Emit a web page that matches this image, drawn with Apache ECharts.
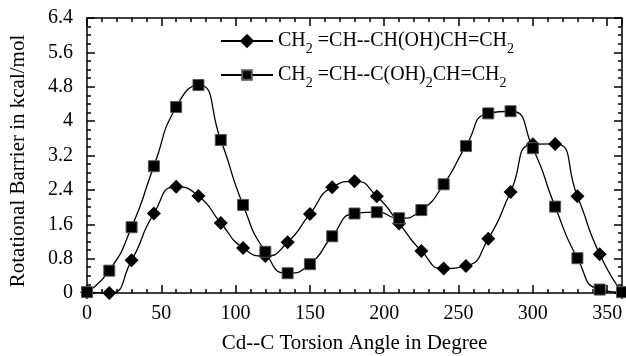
<!DOCTYPE html>
<html>
<head>
<meta charset="utf-8">
<script src="https://cdn.jsdelivr.net/npm/echarts@6/dist/echarts.min.js"></script>
<style>
  html, body { margin: 0; padding: 0; background: #fff; }
  #chart { width: 626px; height: 356px; }
</style>
</head>
<body>
<div id="chart"></div>
<script>
// 扭转角（度）
var angles = [0, 15, 30, 45, 60, 75, 90, 105, 120, 135, 150, 165, 180,
              195, 210, 225, 240, 255, 270, 285, 300, 315, 330, 345, 360];
// CH2=CH--CH(OH)CH=CH2
var barrierOne = [0.02, 0.0, 0.76, 1.85, 2.47, 2.26, 1.63, 1.05, 0.86, 1.18, 1.84, 2.46,
                  2.6, 2.25, 1.62, 0.98, 0.57, 0.63, 1.26, 2.35, 3.46, 3.47, 2.25, 0.9, 0.02];
// CH2=CH--C(OH)2CH=CH2
var barrierTwo = [0.02, 0.52, 1.53, 2.95, 4.33, 4.84, 3.56, 2.05, 0.96, 0.46, 0.67, 1.32,
                  1.85, 1.88, 1.74, 1.93, 2.53, 3.42, 4.18, 4.23, 3.37, 2.01, 0.81, 0.08, 0.02];
var seriesNames = ['CH2=CH--CH(OH)CH=CH2', 'CH2=CH--C(OH)2CH=CH2'];
// 图例文字（带下标）
var legendRich = {
  'CH2=CH--CH(OH)CH=CH2': '{n|CH}{s|2}{n| =CH--CH(OH)CH=CH}{s|2}',
  'CH2=CH--C(OH)2CH=CH2': '{n|CH}{s|2}{n| =CH--C(OH)}{s|2}{n|CH=CH}{s|2}'
};

var font = 'Liberation Serif';
var chart = echarts.init(document.getElementById('chart'));

function pairs(xs, ys) {
  return xs.map(function (x, i) { return [x, ys[i]]; });
}

var gridPos = { left: 87, right: 4, top: 18, bottom: 63, containLabel: false, outerBoundsMode: 'none' };
var lineBlack = { color: '#000', width: 1.5 };
var legendText = {
  fontFamily: font,
  color: '#000',
  rich: {
    n: { fontFamily: font, fontSize: 20, color: '#000' },
    s: { fontFamily: font, fontSize: 14, color: '#000', padding: [16, 0, 0, 0] }
  }
};
function legendFmt(name) { return legendRich[name]; }

var option = {
  backgroundColor: '#fff',
  animation: false,
  grid: [
    Object.assign({}, gridPos),
    Object.assign({}, gridPos)
  ],
  // 两个图例分开放，方便给不同的符号大小
  legend: [
    {
      data: [seriesNames[0]],
      left: 215, top: 26,
      itemWidth: 52, itemHeight: 18,
      formatter: legendFmt,
      textStyle: legendText
    },
    {
      data: [seriesNames[1]],
      left: 215, top: 60,
      itemWidth: 52, itemHeight: 12,
      formatter: legendFmt,
      textStyle: legendText
    }
  ],
  xAxis: [
    {
      type: 'value', gridIndex: 0, position: 'bottom',
      min: 0, max: 360, interval: 50,
      name: 'Cd--C Torsion Angle in Degree',
      nameLocation: 'middle', nameGap: 40,
      nameTextStyle: { fontFamily: font, fontSize: 21, color: '#000' },
      axisLine: { show: true, onZero: false, lineStyle: lineBlack },
      axisTick: { show: true, inside: true, length: 8, lineStyle: lineBlack },
      axisLabel: { fontFamily: font, fontSize: 20, color: '#000', margin: 11, showMaxLabel: false },
      splitLine: { show: false }
    },
    {
      type: 'value', gridIndex: 0, position: 'top',
      min: 0, max: 360, interval: 50,
      axisLine: { show: true, onZero: false, lineStyle: lineBlack },
      axisTick: { show: true, inside: true, length: 8, lineStyle: lineBlack },
      axisLabel: { show: false },
      splitLine: { show: false }
    },
    {
      type: 'value', gridIndex: 1, position: 'bottom',
      min: 0, max: 360, interval: 10,
      axisLine: { show: false, onZero: false },
      axisTick: { show: true, inside: true, length: 4, lineStyle: lineBlack },
      axisLabel: { show: false },
      splitLine: { show: false }
    },
    {
      type: 'value', gridIndex: 1, position: 'top',
      min: 0, max: 360, interval: 10,
      axisLine: { show: false, onZero: false },
      axisTick: { show: true, inside: true, length: 4, lineStyle: lineBlack },
      axisLabel: { show: false },
      splitLine: { show: false }
    }
  ],
  yAxis: [
    {
      type: 'value', gridIndex: 0, position: 'left',
      min: 0, max: 6.4, interval: 0.8,
      name: 'Rotational Barrier in kcal/mol',
      nameLocation: 'middle', nameGap: 58,
      nameTextStyle: { fontFamily: font, fontSize: 21, color: '#000', padding: [0, 11, 0, 0] },
      axisLine: { show: true, onZero: false, lineStyle: lineBlack },
      axisTick: { show: true, inside: true, length: 8, lineStyle: lineBlack },
      minorTick: { show: true, splitNumber: 4, length: 4, lineStyle: lineBlack },
      axisLabel: { fontFamily: font, fontSize: 20, color: '#000', margin: 14 },
      splitLine: { show: false }
    },
    {
      type: 'value', gridIndex: 0, position: 'right',
      min: 0, max: 6.4, interval: 0.8,
      axisLine: { show: true, onZero: false, lineStyle: lineBlack },
      axisTick: { show: true, inside: true, length: 8, lineStyle: lineBlack },
      minorTick: { show: true, splitNumber: 4, length: 4, lineStyle: lineBlack },
      axisLabel: { show: false },
      splitLine: { show: false }
    },
    {
      type: 'value', gridIndex: 1, min: 0, max: 6.4, show: false
    }
  ],
  series: [
    {
      name: seriesNames[0],
      type: 'line',
      xAxisIndex: 0, yAxisIndex: 0,
      smooth: 0.6,
      data: pairs(angles, barrierOne),
      symbol: 'diamond',
      symbolSize: 14,
      showAllSymbol: true,
      lineStyle: { color: '#000', width: 1.3 },
      itemStyle: { color: '#000', borderColor: '#000', borderWidth: 0 }
    },
    {
      name: seriesNames[1],
      type: 'line',
      xAxisIndex: 0, yAxisIndex: 0,
      smooth: 0.6,
      data: pairs(angles, barrierTwo),
      symbol: 'rect',
      symbolSize: 11,
      showAllSymbol: true,
      lineStyle: { color: '#000', width: 1.3 },
      itemStyle: { color: '#000', borderColor: '#555', borderWidth: 1 }
    }
  ]
};
chart.setOption(option);
</script>
</body>
</html>
